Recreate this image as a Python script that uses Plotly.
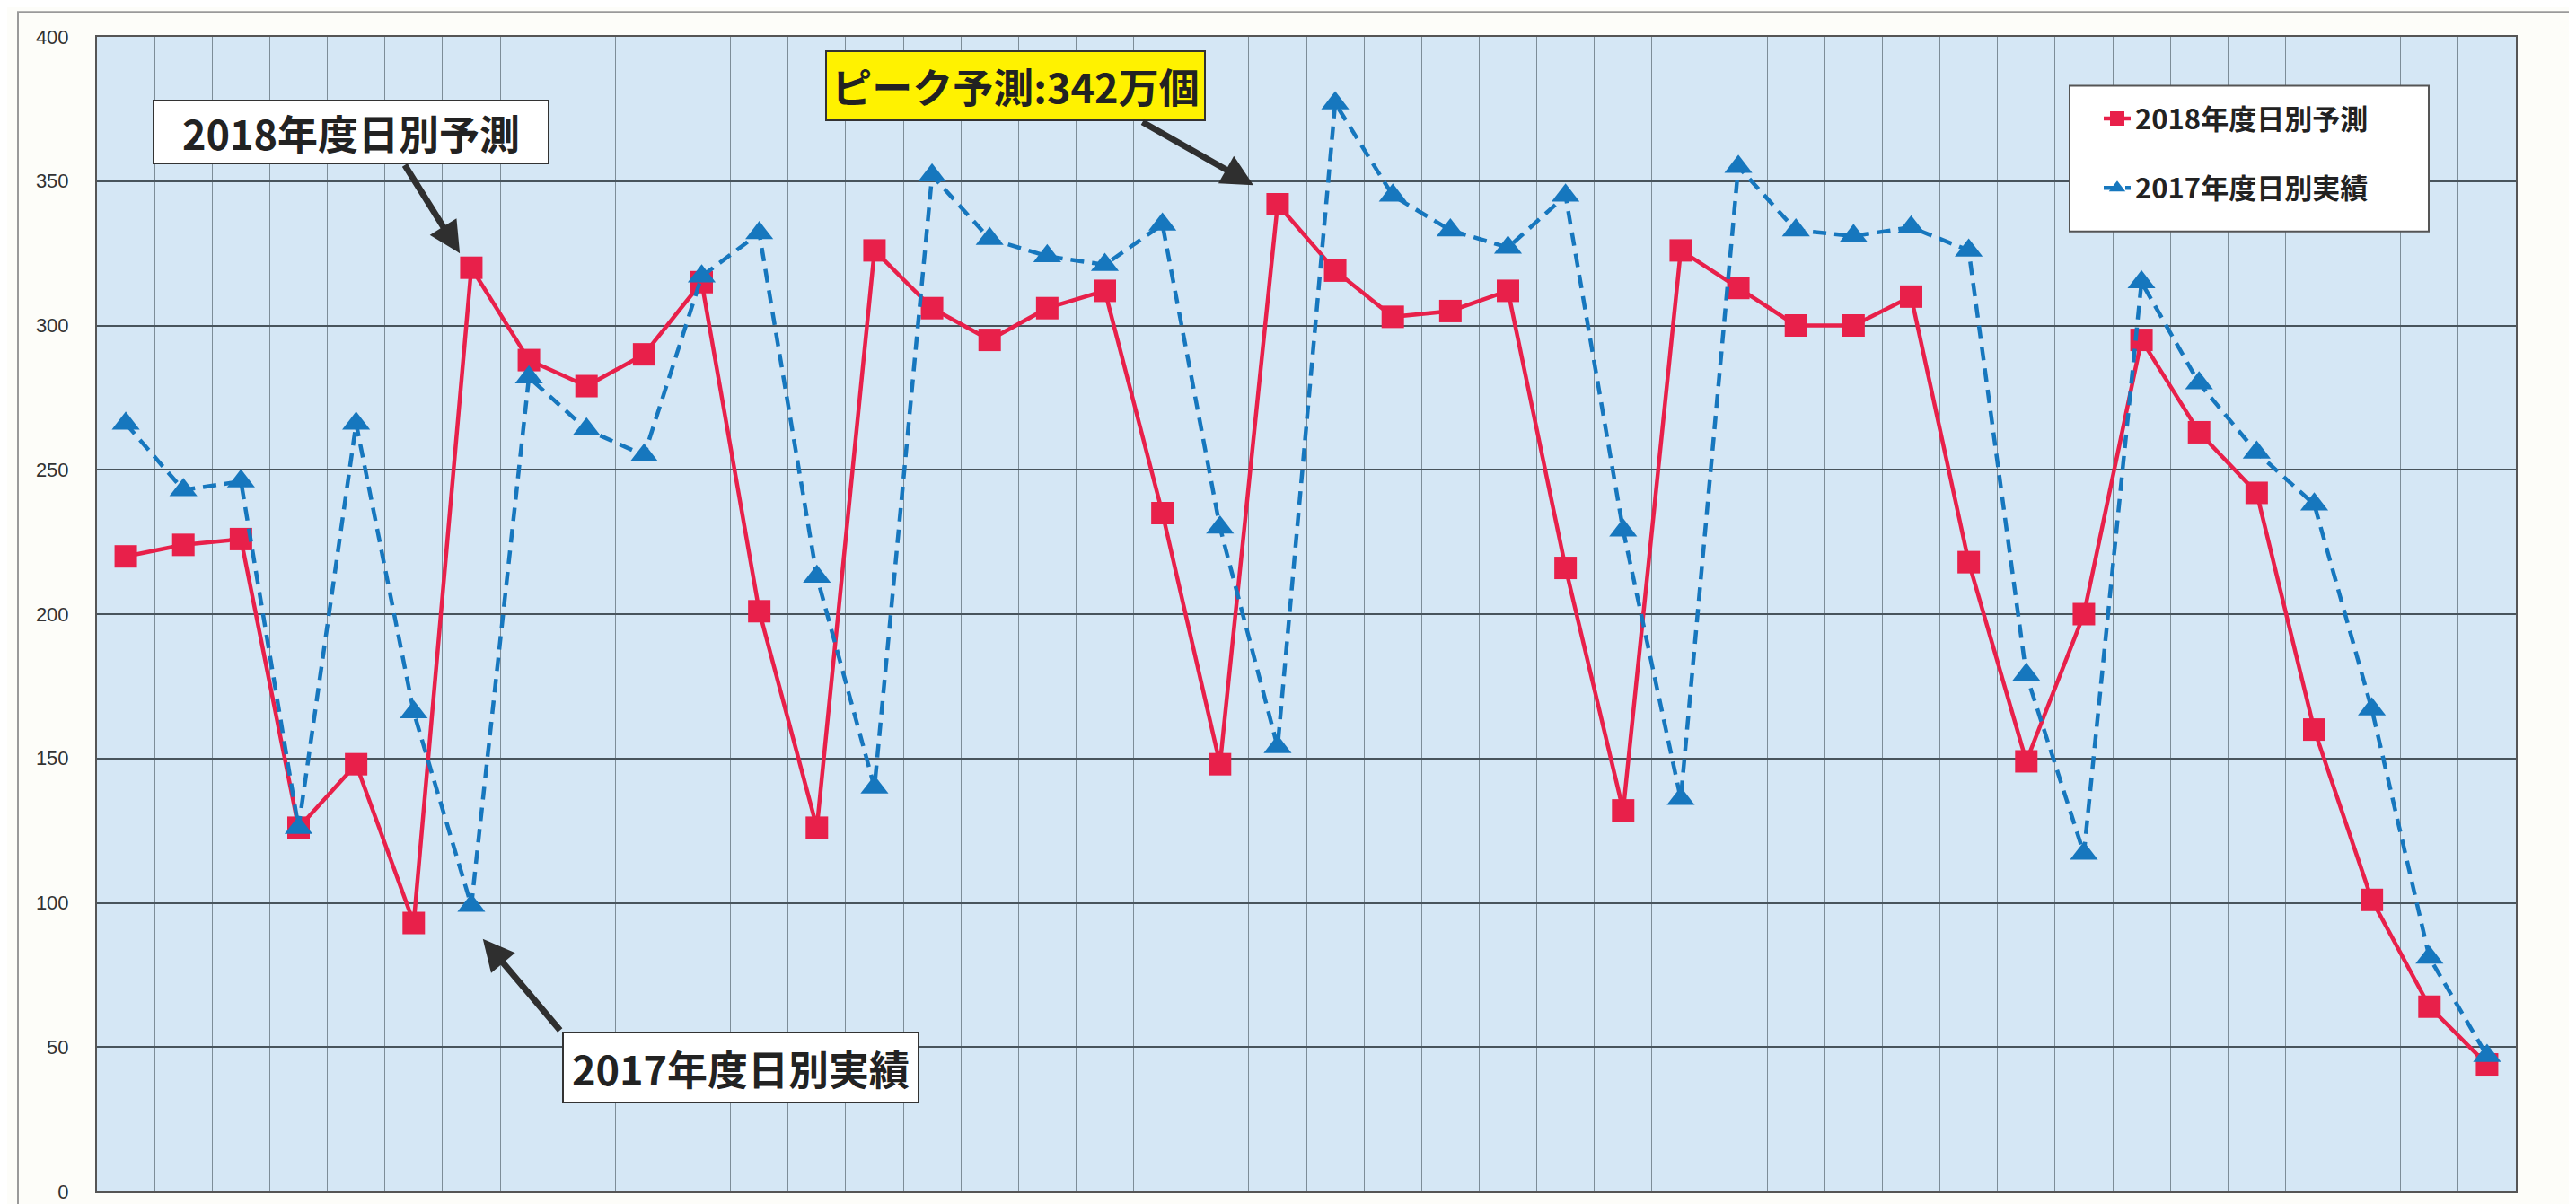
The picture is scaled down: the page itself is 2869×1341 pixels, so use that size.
import plotly.graph_objects as go

# ---- data ----
days = list(range(1, 43))
forecast_2018 = [220, 224, 226, 126, 148, 93, 320, 288, 279, 290,
                 315, 201, 126, 326, 306, 295, 306, 312, 235, 148,
                 342, 319, 303, 305, 312, 216, 132, 326, 313, 300,
                 300, 310, 218, 149, 200, 295, 263, 242, 160, 101,
                 64, 44]
actual_2017 = [266, 243, 246, 126, 266, 166, 99, 282, 264, 255,
               317, 332, 213, 140, 352, 330, 324, 321, 335, 230,
               154, 377, 345, 333, 327, 345, 229, 136, 355, 333,
               331, 334, 326, 179, 117, 315, 280, 256, 238, 167,
               81, 47]
y_ticks = [0, 50, 100, 150, 200, 250, 300, 350, 400]
name_2018 = "2018年度日別予測"
name_2017 = "2017年度日別実績"
peak_label = "ピーク予測:342万個"

RED = "#e8204a"
BLUE = "#1677be"
CJK = "Noto Sans CJK JP, Noto Sans, sans-serif"

fig = go.Figure()
fig.add_trace(go.Scatter(
    x=days, y=forecast_2018, name=name_2018, mode="lines+markers",
    line=dict(color=RED, width=4.5),
    marker=dict(symbol="square", size=25, color=RED),
    legendgroup="a",
))
fig.add_trace(go.Scatter(
    x=days, y=actual_2017, name=name_2017, mode="lines+markers",
    line=dict(color=BLUE, width=4.5, dash="15px,9px"),
    marker=dict(symbol="triangle-up", size=27, color=BLUE),
    legendgroup="b",
))

ARROW = "#2f2f2f"
annotations = []
# text boxes
box_font = dict(family=CJK, size=45, color="#222")
annotations.append(dict(x=4.91, y=367, xref="x", yref="y", text="<b>" + name_2018 + "</b>",
                        showarrow=False, bgcolor="white", bordercolor="#333", borderwidth=2,
                        width=436, height=66, font=box_font, align="center", valign="middle"))
annotations.append(dict(x=11.68, y=42.8, xref="x", yref="y", text="<b>" + name_2017 + "</b>",
                        showarrow=False, bgcolor="white", bordercolor="#333", borderwidth=2,
                        width=392, height=74, font=box_font, align="center", valign="middle"))
annotations.append(dict(x=16.45, y=383, xref="x", yref="y", text="<b>" + peak_label + "</b>",
                        showarrow=False, bgcolor="#fff200", bordercolor="#333", borderwidth=2,
                        width=418, height=73, font=box_font, align="center", valign="middle"))
# arrows
for (tx, ty, hx, hy) in [(5.83, 356, 6.80, 325), (8.56, 55.4, 7.20, 87.5), (18.63, 370.7, 20.58, 348.6)]:
    annotations.append(dict(x=hx, y=hy, ax=tx, ay=ty, xref="x", yref="y", axref="x", ayref="y",
                            text="", showarrow=True, arrowhead=2, arrowsize=1, arrowwidth=7,
                            arrowcolor=ARROW, standoff=0, startstandoff=0))

L, R, T, B = 100, 75, 33, 9
W, H = 2869, 1341
pw, ph = W - L - R, H - T - B

def px_x(p):
    return (p - L) / pw

def px_y(p):
    return (H - B - p) / ph

shapes = [
    # outer page frame
    dict(type="rect", xref="paper", yref="paper", x0=px_x(12), x1=px_x(2860), y0=px_y(1360), y1=px_y(5),
         line=dict(color="#9a9a9a", width=2), fillcolor="rgba(0,0,0,0)", layer="below"),
    # legend box
    dict(type="rect", xref="paper", yref="paper", x0=px_x(2297), x1=px_x(2697), y0=px_y(252), y1=px_y(88),
         line=dict(color="#555", width=2), fillcolor="white", layer="above"),
]

fig.update_layout(
    width=W, height=H,
    margin=dict(l=L, r=R, t=T, b=B),
    paper_bgcolor="#fdfdf9",
    plot_bgcolor="#d5e7f5",
    font=dict(family="Liberation Sans, Arial, sans-serif", color="#333"),
    showlegend=True,
    legend=dict(x=px_x(2330), y=px_y(98), xanchor="left", yanchor="top",
                bgcolor="rgba(0,0,0,0)", borderwidth=0,
                font=dict(family=CJK, size=31, color="#222", weight="bold"),
                tracegroupgap=34, itemwidth=30),
    annotations=annotations,
    shapes=shapes,
    xaxis=dict(range=[0.5, 42.5], tick0=0.5, dtick=1, showticklabels=False,
               showgrid=True, gridcolor="#7d8d98", gridwidth=1, zeroline=False,
               showline=True, linecolor="#555", linewidth=2, mirror=True, ticks=""),
    yaxis=dict(range=[0, 400], tickvals=y_ticks, ticktext=[str(v) for v in y_ticks],
               showgrid=True, gridcolor="#48545c", gridwidth=1.5, zeroline=False,
               showline=True, linecolor="#555", linewidth=2, mirror=True, ticks="",
               ticklabelstandoff=25, ticklabeloverflow="allow",
               tickfont=dict(family="Liberation Sans, Arial, sans-serif", size=22, color="#333")),
)

fig.write_html("out.html")
